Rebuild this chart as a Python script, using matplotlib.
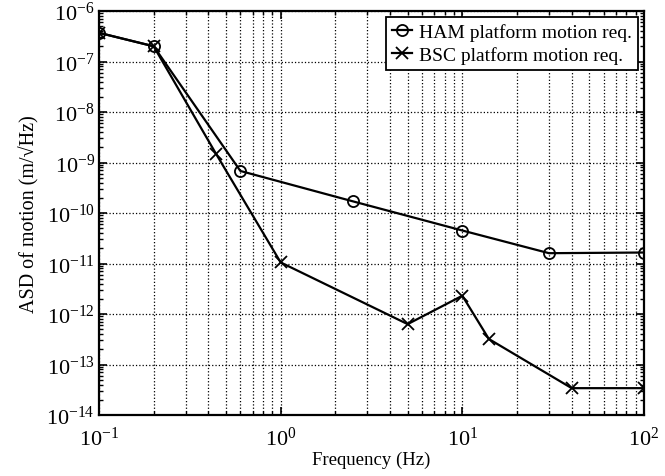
import matplotlib
matplotlib.use("Agg")
import matplotlib.pyplot as plt
from matplotlib.ticker import LogLocator, NullFormatter

plt.rcParams['font.family'] = ['Liberation Serif', 'DejaVu Serif']
plt.rcParams['mathtext.fontset'] = 'stix'

# requirement curves (frequency in Hz, ASD in m/rtHz)
ham_freq = [0.1, 0.2, 0.6, 2.5, 10, 30, 100]
ham_asd = [3.7e-7, 2.0e-7, 6.8e-10, 1.7e-10, 4.5e-11, 1.6e-11, 1.65e-11]

bsc_freq = [0.1, 0.2, 0.44, 1.0, 5.0, 10, 14, 40, 100]
bsc_asd = [3.7e-7, 2.0e-7, 1.5e-9, 1.05e-11, 6.3e-13, 2.3e-12, 3.2e-13, 3.4e-14, 3.4e-14]

fig = plt.figure(figsize=(6.65, 4.77), dpi=100)
ax = fig.add_axes([99 / 665, 61 / 477, 545 / 665, 404 / 477])

ax.loglog(ham_freq, ham_asd, '-o', color='black', lw=1.6, ms=8,
          mfc='none', mew=1.3, label='HAM platform motion req.')
ax.loglog(bsc_freq, bsc_asd, '-x', color='black', lw=1.6, ms=8,
          mew=1.3, label='BSC platform motion req.')

ax.set_xlim(0.1, 100)
ax.set_ylim(1e-14, 1e-6)

ax.xaxis.set_major_locator(LogLocator(base=10, numticks=10))
ax.xaxis.set_minor_locator(LogLocator(base=10, subs=range(2, 10), numticks=20))
ax.yaxis.set_major_locator(LogLocator(base=10, numticks=20))
ax.yaxis.set_minor_locator(LogLocator(base=10, subs=range(2, 10), numticks=30))
ax.xaxis.set_minor_formatter(NullFormatter())
ax.yaxis.set_minor_formatter(NullFormatter())

ax.grid(True, which='major', axis='both', linestyle=':', color='black', lw=0.9)
ax.grid(True, which='minor', axis='x', linestyle=':', color='black', lw=0.9)

ax.tick_params(which='both', direction='in', top=True, right=True, labelsize=16)
ax.tick_params(which='major', length=6, width=1.2)
ax.tick_params(which='minor', length=3, width=1.0)
ax.tick_params(axis='x', which='major', pad=8)
ax.tick_params(axis='y', which='major', pad=3)
for s in ax.spines.values():
    s.set_linewidth(1.6)

ax.set_xlabel('Frequency (Hz)', fontsize=13.5, labelpad=1)
ax.set_ylabel('ASD of motion (m/\u221aHz)', fontsize=14.5, labelpad=5)

leg = ax.legend(loc='upper right', fontsize=14, fancybox=False, framealpha=1,
                edgecolor='black', borderaxespad=0.3, handlelength=1.0,
                handletextpad=0.4, borderpad=0.3, labelspacing=0.3)
leg.get_frame().set_linewidth(1.3)

fig.savefig('out.png', dpi=100)
